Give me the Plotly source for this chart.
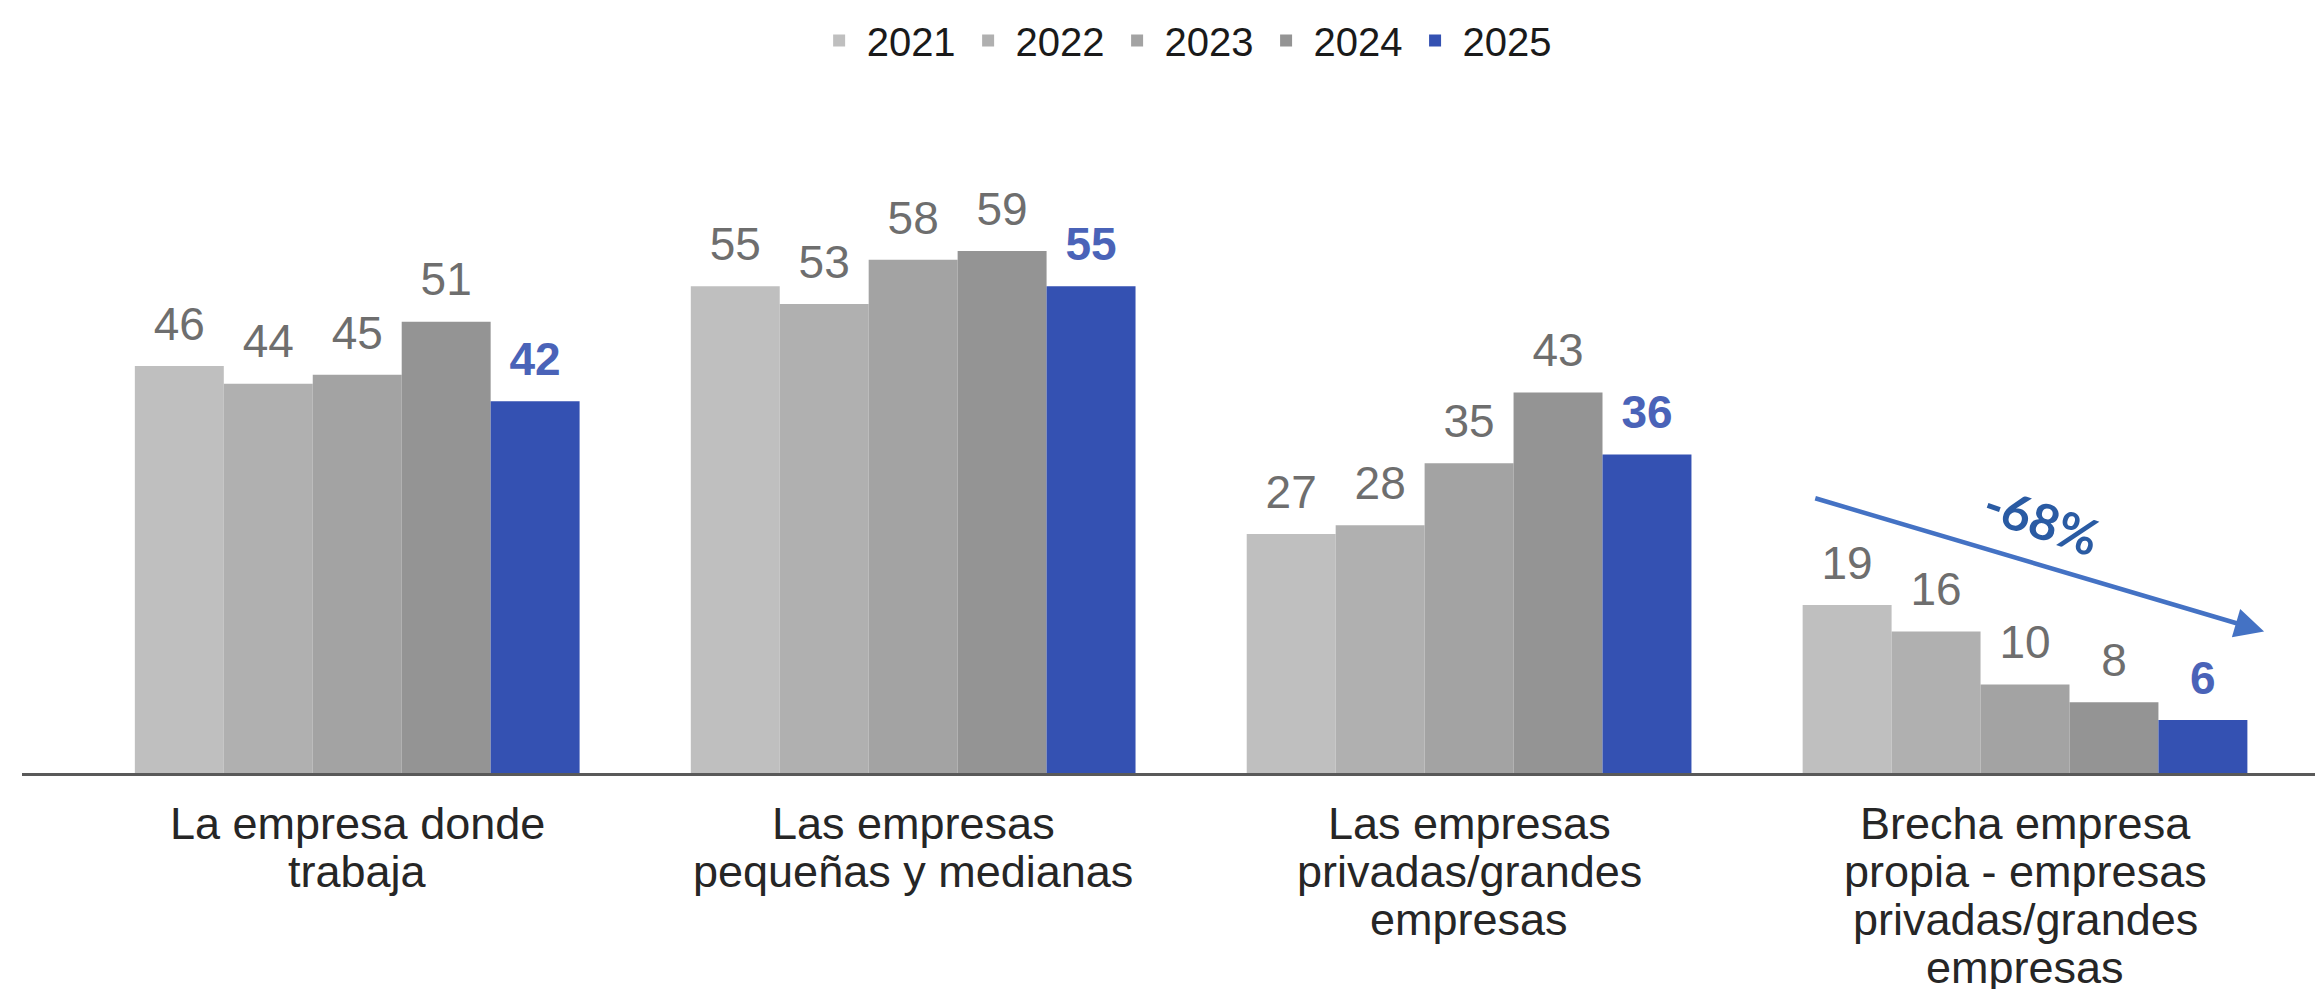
import plotly.graph_objects as go

categories = ["La empresa donde trabaja", "Las empresas pequeñas y medianas",
              "Las empresas privadas/grandes empresas",
              "Brecha empresa propia - empresas privadas/grandes empresas"]
tick_lines = [["La empresa donde", "trabaja"],
              ["Las empresas", "pequeñas y medianas"],
              ["Las empresas", "privadas/grandes", "empresas"],
              ["Brecha empresa", "propia - empresas", "privadas/grandes", "empresas"]]
years = ["2021", "2022", "2023", "2024", "2025"]
v2021 = [46, 55, 27, 19]
v2022 = [44, 53, 28, 16]
v2023 = [45, 58, 35, 10]
v2024 = [51, 59, 43, 8]
v2025 = [42, 55, 36, 6]
series = [v2021, v2022, v2023, v2024, v2025]
colors = ["#bfbfbf", "#b0b0b0", "#a3a3a3", "#949494", "#3451b2"]
label_colors = ["#6e6e6e", "#6e6e6e", "#6e6e6e", "#6e6e6e", "#4a63b8"]
change_label = "-68%"

FONT = "Arial, Liberation Sans, sans-serif"

fig = go.Figure()
for i, (yr, vals) in enumerate(zip(years, series)):
    fig.add_trace(go.Bar(
        x=categories, y=vals, name=yr,
        marker=dict(color=colors[i], line=dict(width=0)),
        hoverinfo="x+y+name",
    ))
for i, (yr, vals) in enumerate(zip(years, series)):
    bold = i == 4
    fig.add_trace(go.Scatter(
        x=categories, y=vals, mode="markers+text", showlegend=False,
        marker=dict(size=22, color="rgba(0,0,0,0)"),
        text=[f"<b>{v}</b>" if bold else str(v) for v in vals],
        textposition="top center",
        textfont=dict(family=FONT, size=46, color=label_colors[i]),
        cliponaxis=False, hoverinfo="skip",
    ))

annotations = []
for cat, lines in zip(categories, tick_lines):
    for k, line in enumerate(lines):
        annotations.append(dict(
            x=cat, y=0, xref="x", yref="y", text=line, showarrow=False,
            yanchor="middle", yshift=-(50 + 48 * k),
            font=dict(family=FONT, size=45, color="#262626")))

# trend arrow over the last group
annotations.append(dict(
    x=3.43, y=16.0, ax=2.62, ay=31.1, xref="x", yref="y", axref="x", ayref="y",
    text="", showarrow=True, arrowhead=2, arrowsize=1.3, arrowwidth=4.5,
    arrowcolor="#4472c4"))
annotations.append(dict(
    x=3.03, y=28.6, xref="x", yref="y", text=f"<b>{change_label}</b>",
    showarrow=False, textangle=19,
    font=dict(family="Lato, Open Sans, sans-serif", size=50, color="#2a5ba3")))

# the page body adds an 8px offset, compensated in the margins
fig.update_layout(
    width=2323, height=989,
    barmode="group", bargap=0.2, bargroupgap=0,
    scattermode="group", scattergap=0.2,
    plot_bgcolor="white", paper_bgcolor="white",
    margin=dict(l=14, r=8, t=112, b=224),
    font=dict(family=FONT, color="#1a1a1a"),
    legend=dict(orientation="h", x=0.5063, xref="container", xanchor="center",
                y=1.0, yref="container", yanchor="top",
                font=dict(family=FONT, size=40, color="#1a1a1a"),
                itemwidth=45, traceorder="normal"),
    xaxis=dict(type="category", range=[-0.603, 3.536], showticklabels=False,
               showline=True, linecolor="#595959", linewidth=3, ticks="",
               showgrid=False, zeroline=False, fixedrange=True),
    yaxis=dict(range=[0, 73.8], visible=False, showgrid=False, zeroline=False),
    annotations=annotations,
)

fig.write_html("out.html")
